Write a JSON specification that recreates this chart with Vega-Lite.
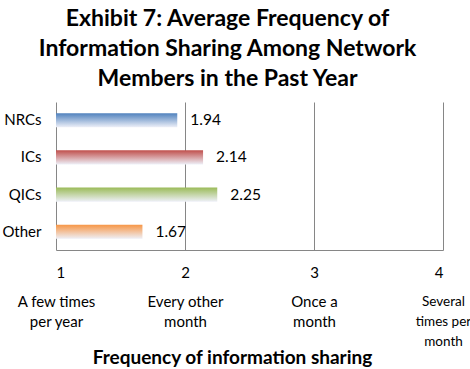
{
  "$schema": "https://vega.github.io/schema/vega-lite/v6.json",
  "width": 387,
  "height": 148,
  "autosize": "none",
  "padding": {"left": 56, "top": 102, "right": 27, "bottom": 119},
  "background": "white",
  "config": {"view": {"stroke": null}, "font": "Lato"},
  "title": {
    "text": ["Exhibit 7: Average Frequency of", "Information Sharing Among Network", "Members in the Past Year"],
    "fontSize": 23,
    "fontWeight": "bold",
    "font": "Lato",
    "color": "black",
    "lineHeight": 30,
    "anchor": "middle",
    "dx": -22,
    "offset": 11
  },
  "data": {
    "values": [
      {"group": "NRCs", "value": 1.94},
      {"group": "ICs", "value": 2.14},
      {"group": "QICs", "value": 2.25},
      {"group": "Other", "value": 1.67}
    ]
  },
  "resolve": {"axis": {"x": "independent"}},
  "layer": [
    {
      "mark": {"type": "bar"},
      "encoding": {
        "y": {
          "field": "group", "type": "nominal", "sort": ["NRCs", "ICs", "QICs", "Other"],
          "scale": {"paddingInner": 0.62, "paddingOuter": 0.3},
          "axis": {"title": null, "domain": false, "ticks": false, "labelFontSize": 15, "labelColor": "black", "labelPadding": 15}
        },
        "x": {
          "field": "value", "type": "quantitative",
          "scale": {"domain": [1, 4], "nice": false, "zero": false},
          "axis": {"orient": "bottom", "values": [1, 2, 3, 4], "format": "d", "grid": true, "gridColor": "#868686", "gridOpacity": 1, "domainColor": "#868686", "ticks": false, "labelPadding": 15, "labelFontSize": 15, "labelColor": "black", "title": null}
        },
        "x2": {"datum": 1},
        "color": {
          "condition": [
            {"test": "datum.group === 'NRCs'", "value": {"gradient": "linear", "x1": 0, "y1": 0, "x2": 0, "y2": 1, "stops": [{"offset": 0, "color": "#4F81BD"}, {"offset": 1, "color": "#EEF0F8"}]}},
            {"test": "datum.group === 'ICs'", "value": {"gradient": "linear", "x1": 0, "y1": 0, "x2": 0, "y2": 1, "stops": [{"offset": 0, "color": "#C0504D"}, {"offset": 1, "color": "#EEF0F8"}]}},
            {"test": "datum.group === 'QICs'", "value": {"gradient": "linear", "x1": 0, "y1": 0, "x2": 0, "y2": 1, "stops": [{"offset": 0, "color": "#9BBB59"}, {"offset": 1, "color": "#EEF0F8"}]}}
          ],
          "value": {"gradient": "linear", "x1": 0, "y1": 0, "x2": 0, "y2": 1, "stops": [{"offset": 0, "color": "#F79646"}, {"offset": 1, "color": "#EEF0F8"}]}
        }
      }
    },
    {
      "mark": {"type": "text", "align": "left", "baseline": "middle", "dx": 13, "fontSize": 15.5, "color": "black"},
      "encoding": {
        "y": {"field": "group", "type": "nominal", "sort": ["NRCs", "ICs", "QICs", "Other"]},
        "x": {
          "field": "value", "type": "quantitative",
          "scale": {"domain": [1, 4], "nice": false, "zero": false},
          "axis": {
            "orient": "bottom", "offset": 39, "values": [1, 2, 3, 4], "grid": false, "domain": false, "ticks": false,
            "labelExpr": "datum.value == 1 ? ['A few times', 'per year'] : datum.value == 2 ? ['Every other', 'month'] : datum.value == 3 ? ['Once a', 'month'] : ['Several', 'times per', 'month']",
            "labelBaseline": "top", "labelLineHeight": 20, "labelPadding": 5,
            "labelFontSize": {"condition": {"test": "datum.value == 4", "value": 13.5}, "value": 15},
            "labelColor": "black", "labelOverlap": false, "labelFlush": false,
            "title": "Frequency of information sharing", "titleFontSize": 19, "titleFontWeight": "bold", "titleColor": "black", "titlePadding": 1, "titleX": 176, "titleAnchor": null
          }
        },
        "text": {"field": "value", "type": "quantitative", "format": ".2f"}
      }
    }
  ]
}
